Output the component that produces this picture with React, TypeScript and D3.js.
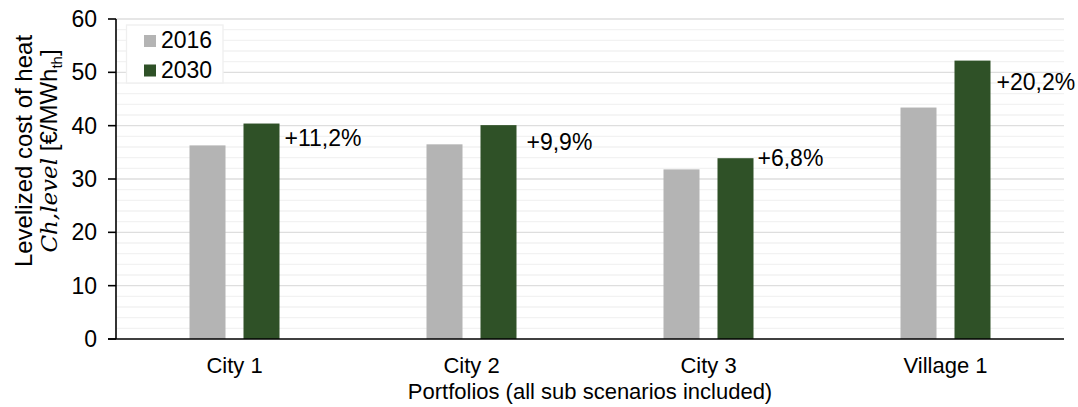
import React from "react";
import * as d3 from "d3";

// Portfolios and levelized cost of heat per year
const portfolios = ["City 1", "City 2", "City 3", "Village 1"];
const years = ["2016", "2030"];
const cost2016 = [36.3, 36.5, 31.8, 43.4];
const cost2030 = [40.4, 40.1, 33.9, 52.2];
const changeLabels = ["+11,2%", "+9,9%", "+6,8%", "+20,2%"];
const yTicks = [0, 10, 20, 30, 40, 50, 60];
const yMinorTicks = d3.range(0, 61, 2);

// Hand-placed offsets of the change labels relative to the 2030 bar's top-right corner
const labelOffsets = [
  { dx: 5, dy: 22 },
  { dx: 10, dy: 25 },
  { dx: 4, dy: 8 },
  { dx: 6, dy: 29 },
];

const W = 1078;
const H = 407;
const M = { left: 116, right: 1064, top: 19, bottom: 339 };
const COLORS = { "2016": "#b4b4b4", "2030": "#2f5127" };
const FONT = "'Liberation Sans', Arial, sans-serif";
const FS = 23;

export default function App() {
  const x = d3.scaleBand<string>().domain(portfolios).range([M.left, M.right]);
  const y = d3.scaleLinear().domain([0, 60]).range([M.bottom, M.top]);
  const barW = 36;
  const gap = 18;
  const series = [cost2016, cost2030];

  return (
    <svg
      width={W}
      height={H}
      style={{ position: "absolute", left: 0, top: 0, background: "#fff" }}
      fontFamily={FONT}
    >
      {/* minor grid */}
      {yMinorTicks.filter((t) => t % 10 !== 0).map((t) => (
        <line key={"m" + t} x1={M.left} x2={M.right} y1={y(t)} y2={y(t)} stroke="#f2f2f2" strokeWidth={1.3} />
      ))}
      {/* major grid */}
      {yTicks.filter((t) => t !== 0).map((t) => (
        <line key={"g" + t} x1={M.left} x2={M.right} y1={y(t)} y2={y(t)} stroke="#dedede" strokeWidth={1.4} />
      ))}

      {/* bars */}
      {portfolios.map((p, i) => {
        const c = x(p)! + x.bandwidth() / 2;
        return series.map((s, j) => {
          const left = c - gap / 2 - barW + j * (barW + gap);
          return (
            <rect
              key={p + j}
              x={left}
              y={y(s[i])}
              width={barW}
              height={y(0) - y(s[i])}
              fill={COLORS[years[j] as "2016" | "2030"]}
            />
          );
        });
      })}

      {/* change labels */}
      {portfolios.map((p, i) => {
        const c = x(p)! + x.bandwidth() / 2;
        const right = c + gap / 2 + barW;
        return (
          <text
            key={"l" + p}
            x={right + labelOffsets[i].dx}
            y={y(cost2030[i]) + labelOffsets[i].dy}
            fontSize={FS}
            fill="#000"
          >
            {changeLabels[i]}
          </text>
        );
      })}

      {/* axes */}
      <line x1={M.left} x2={M.left} y1={M.top} y2={M.bottom} stroke="#000" strokeWidth={1.6} />
      <line x1={M.left - 8} x2={M.right} y1={M.bottom} y2={M.bottom} stroke="#000" strokeWidth={1.6} />
      {yTicks.map((t) => (
        <g key={"t" + t}>
          <line x1={M.left - 8} x2={M.left} y1={y(t)} y2={y(t)} stroke="#000" strokeWidth={1.6} />
          <text x={M.left - 19} y={y(t)} dy="0.35em" textAnchor="end" fontSize={FS}>
            {t}
          </text>
        </g>
      ))}
      {portfolios.map((p) => (
        <text key={"c" + p} x={x(p)! + x.bandwidth() / 2} y={373} textAnchor="middle" fontSize={22}>
          {p}
        </text>
      ))}
      <text x={(M.left + M.right) / 2} y={399} textAnchor="middle" fontSize={22}>
        Portfolios (all sub scenarios included)
      </text>

      {/* y axis title */}
      <g transform="translate(32,151) rotate(-90)">
        <text x={0} y={0} textAnchor="middle" fontSize={FS + 1}>
          Levelized cost of heat
        </text>
        <text x={0} y={25} textAnchor="middle" fontSize={FS + 1}>
          <tspan fontFamily="'DejaVu Serif', 'Liberation Serif', serif" fontStyle="italic" fontSize={FS}>
            Ch,level
          </tspan>
          <tspan> [€/MWh</tspan>
          <tspan fontSize={15} dy={5}>th</tspan>
          <tspan dy={-5}>]</tspan>
        </text>
      </g>

      {/* legend */}
      <rect x={126.5} y={25} width={96.5} height={58} fill="#fff" stroke="#efefef" strokeWidth={1.3} />
      {years.map((yr, j) => (
        <g key={yr}>
          <rect x={144} y={35 + j * 29.5} width={12} height={12} fill={COLORS[yr as "2016" | "2030"]} />
          <text x={161} y={48 + j * 29.5} fontSize={FS}>
            {yr}
          </text>
        </g>
      ))}
    </svg>
  );
}
